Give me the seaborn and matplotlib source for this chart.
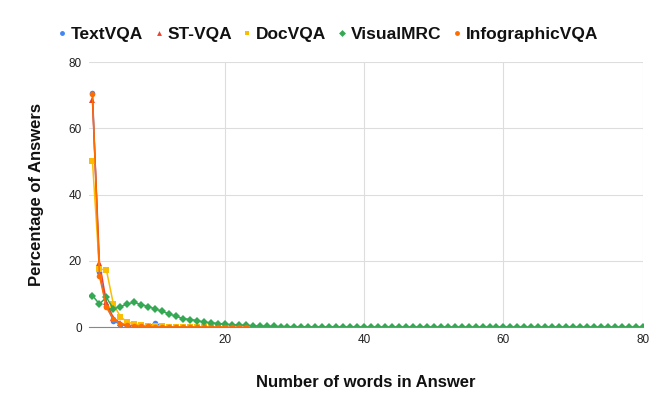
import numpy as np
import pandas as pd
import matplotlib
matplotlib.use('Agg')
import matplotlib.pyplot as plt
from matplotlib.lines import Line2D
import seaborn as sns

sns.set_style('white')
plt.rcParams['font.family'] = ['Liberation Sans', 'DejaVu Sans']

# Percentage of answers by number of words
textvqa = [70.7, 16.5, 6.5, 2.0, 0.8, 0.4, 0.2, 0.1, 0.05, 1.3, 0.1, 0.05, 0.03, 0.02,
           0.02, 0.01, 0.01, 0.01, 0.01, 0.01]
stvqa = [68.5, 19.5, 7.5, 2.8, 1.2, 0.5, 0.3, 0.15, 0.1, 0.05, 0.03, 0.02, 0.01, 0.01,
         0.01, 0.01]
docvqa = [50.0, 17.5, 17.3, 7.0, 3.2, 1.5, 1.0, 0.6, 0.4, 0.3, 0.2, 0.15, 0.1, 0.08,
          0.06, 0.05, 0.04, 0.03, 0.02, 0.02]
visualmrc = [9.5, 7.0, 9.0, 5.5, 6.2, 7.0, 7.5, 6.8, 6.2, 5.5, 4.8, 4.0, 3.3, 2.6, 2.3,
             2.0, 1.5, 1.3, 1.1, 0.9, 0.7, 0.6, 0.5, 0.4, 0.3, 0.25, 0.2, 0.18, 0.15,
             0.13, 0.12, 0.1, 0.1, 0.09, 0.08, 0.08, 0.07, 0.07, 0.06, 0.06, 0.05,
             0.05, 0.05, 0.04, 0.04, 0.04, 0.04, 0.03, 0.03, 0.03, 0.03, 0.03, 0.03,
             0.02, 0.02, 0.02, 0.02, 0.02, 0.02, 0.02, 0.02, 0.02, 0.02, 0.01, 0.01,
             0.01, 0.01, 0.01, 0.01, 0.01, 0.01, 0.01, 0.01, 0.01, 0.01, 0.01, 0.01,
             0.01, 0.01, 0.01]
infographicvqa = [70.3, 15.5, 6.0, 2.5, 1.0, 0.6, 0.4, 0.3, 0.2, 0.15, 0.1, 0.08, 0.06,
                  0.05, 0.04, 0.03, 0.03, 0.02, 0.02, 0.02, 0.01, 0.01, 0.01]

series = {
    'TextVQA': (textvqa, '#4285F4', 'o'),
    'ST-VQA': (stvqa, '#EA4335', '^'),
    'DocVQA': (docvqa, '#FBBC04', 's'),
    'VisualMRC': (visualmrc, '#34A853', 'D'),
    'InfographicVQA': (infographicvqa, '#FF6D01', 'o'),
}

fig = plt.figure(figsize=(6.64, 4.11), dpi=100)
ax = fig.add_axes([0.134, 0.204, 0.834, 0.645])

handles = []
for name, (vals, color, marker) in series.items():
    df = pd.DataFrame({'words': np.arange(1, len(vals) + 1), 'pct': vals})
    sns.lineplot(data=df, x='words', y='pct', ax=ax, color=color, marker=marker,
                 markersize=4, markeredgewidth=0, linewidth=1.1, legend=False)
    handles.append(Line2D([], [], color=color, marker=marker, markersize=3.5,
                          markeredgewidth=0, linestyle='none', label=name))

ax.set_xlim(0.5, 80)
ax.set_ylim(0, 80)
ax.set_xticks([20, 40, 60, 80])
ax.set_yticks([0, 20, 40, 60, 80])
ax.grid(True, color='#dddddd', linewidth=0.8)
for s in ['top', 'right', 'left']:
    ax.spines[s].set_visible(False)
ax.spines['bottom'].set_color('#888888')
ax.tick_params(axis='both', length=0, labelsize=8.5, colors='#222222', pad=5)

ax.set_xlabel('Number of words in Answer', fontsize=12, fontweight='bold', labelpad=21,
              color='#111111')
ax.set_ylabel('Percentage of Answers', fontsize=12, fontweight='bold', labelpad=18,
              color='#111111')

leg = ax.legend(handles=handles, loc='lower center', bbox_to_anchor=(0.432, 1.05), ncol=5,
                frameon=False, prop={'weight': 'bold', 'size': 12.5}, handlelength=0.4,
                handletextpad=0.3, columnspacing=0.7, borderaxespad=0)
for t in leg.get_texts():
    t.set_color('#111111')

fig.savefig('out.png', dpi=100)
